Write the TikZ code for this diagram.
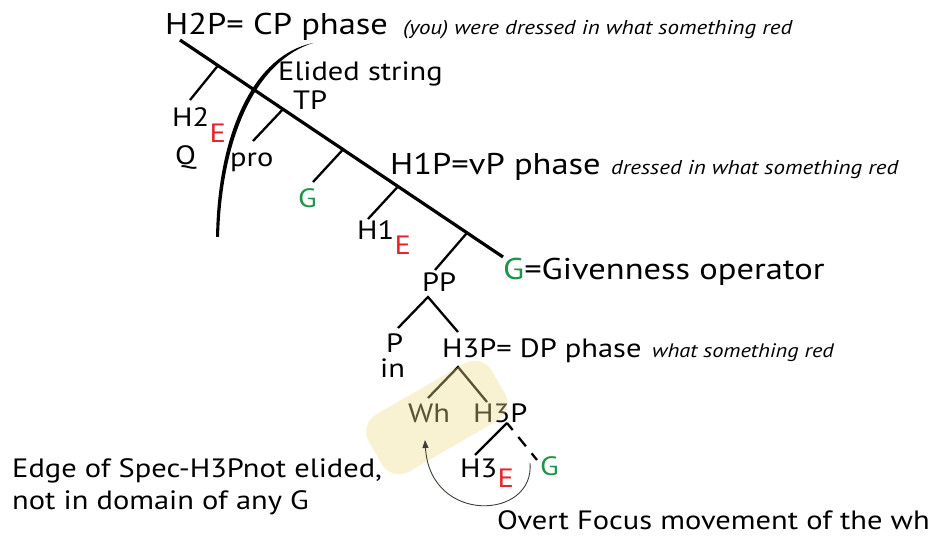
\documentclass[tikz,border=0pt]{standalone}
\usepackage{fontspec}
\setmainfont{PT Sans}[FakeStretch=1.15]
\usetikzlibrary{arrows.meta, calc}
\definecolor{elred}{HTML}{E8212B}
\definecolor{givgreen}{HTML}{1F9448}
\definecolor{hilite}{HTML}{EEDC8A}
\definecolor{mvgray}{HTML}{3E3E36}

\tikzset{
  lbl/.style={font=\fontsize{26.5}{30}\selectfont, inner sep=0pt, anchor=base west},
  head/.style={font=\fontsize{30}{34}\selectfont, inner sep=0pt, anchor=base west},
  gloss/.style={font=\fontsize{20}{24}\selectfont\itshape, inner sep=0pt, anchor=base west},
  spine/.style={line width=3.2pt},
  branch/.style={line width=2.3pt},
}

\begin{document}
\begin{tikzpicture}[x=1pt, y=-1pt, >={Triangle[length=8pt, width=6pt]}]
\useasboundingbox (0,0) rectangle (943,537);

% Phase headers
\node[head] (cp) at (165,35) {H2P= CP phase};
\node[gloss] (cpgl) at (403,35) {(you) were dressed in what something red};
\node[head] (vp) at (390,175) {H1P=vP phase};
\node[gloss] (vpgl) at (611,175) {dressed in what something red};
\node[lbl] (dp) at (442,358) {H3P= DP phase};
\node[gloss, font=\fontsize{19.5}{24}\selectfont\itshape] (dpgl) at (652,358) {what something red};

% Right branching spine H2P ... G
\coordinate (top) at (180,40);
\coordinate (low) at (503,257);
\draw[spine] (top) -- (low);

% Points where the left daughters attach
\coordinate (bq)   at (218,65.5);
\coordinate (bpro) at (283,109.2);
\coordinate (bg)   at (343,149.5);
\coordinate (bh1)  at (398,186.5);
\coordinate (bpp)  at (467,232.9);
% Ends of the left daughters
\coordinate (eq)   at (190,100);
\coordinate (epro) at (253,141);
\coordinate (eg)   at (313,182);
\coordinate (eh1)  at (368,219);
\coordinate (epp)  at (435,270);
\foreach \b/\e in {bq/eq, bpro/epro, bg/eg, bh1/eh1, bpp/epp}
  \draw[branch] (\b) -- (\e);

% Labels along the spine
\node[lbl] (elided) at (278,81) {Elided string};
\node[lbl] (tp) at (293,110) {TP};
\node[lbl] (h2) at (172,127) {H2};
\node[lbl, text=elred] (h2e) at ($(h2.base east)+(0,16)$) {E};
\node[lbl] (q) at (175,165) {Q};
\node[lbl] (pro) at (230,167) {pro};
\node[lbl, text=givgreen] (g1) at (298,208) {G};
\node[lbl] (h1) at (357,240) {H1};
\node[lbl, text=elred] (h1e) at ($(h1.base east)+(0,15)$) {E};
\node[head] (givop) at (503,280) {\textcolor{givgreen}{G}=Givenness operator};

% Ellipsis arc (brush stroke, thicker in the middle)
\fill (313,43) .. controls (255,55) and (218,130) .. (216,237)
  -- (219,237) .. controls (222,131) and (259,60) .. (313,43) -- cycle;

% PP and the DP phase
\node[lbl] (pp) at (422,292) {PP};
\coordinate (ppj) at (428,297);
\coordinate (pend) at (398,328);
\coordinate (dptop) at (458,332);
\draw[branch] (pend) -- (ppj) -- (dptop);
\node[lbl] (p) at (386,353) {P};
\node[lbl] (in) at (380,378) {in};

\coordinate (dpj) at (458,367);
\coordinate (whend) at (428,398);
\coordinate (hbarend) at (487,402);
\draw[branch] (whend) -- (dpj) -- (hbarend);
\node[lbl] (wh) at (408,423) {Wh};
\node[lbl] (h3bar) at (473,423) {H3P};

\coordinate (h3j) at (507,423);
\coordinate (h3end) at (475,455);
\coordinate (g3end) at (537,460);
\draw[branch] (h3j) -- (h3end);
\draw[branch, dash pattern=on 12pt off 9pt, dash phase=3pt] (h3j) -- (g3end);
\node[lbl] (h3) at (460,477) {H3};
\node[lbl, text=elred] (h3e) at ($(h3.base east)+(0,10)$) {E};
\node[lbl, text=givgreen] (g3) at (540,475) {G};

% Highlight on the edge of the DP
\fill[hilite, opacity=0.38, rounded corners=20pt, rotate around={30:(436,418)}]
  (366,385) rectangle (508,451);

% Focus movement of the wh-phrase
\coordinate (mvstart) at (530,463);
\coordinate (mvtip) at (425,440);
\draw[->, mvgray, line width=0.9pt] (mvstart) .. controls (535,520) and (430,525) .. (mvtip);

% Notes
\node[lbl] (mvnote) at (497,529) {Overt Focus movement of the wh};
\node[lbl] (edge1) at (12,477) {Edge of Spec-H3Pnot elided,};
\node[lbl] (edge2) at (12,509) {not in domain of any G};

\end{tikzpicture}
\end{document}
